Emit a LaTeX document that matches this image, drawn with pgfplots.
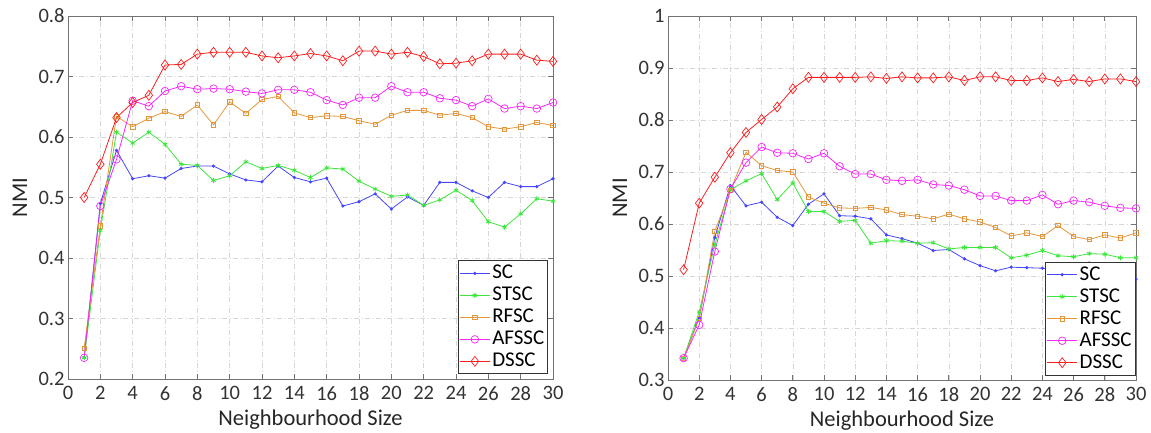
\documentclass[border=0pt]{standalone}
\usepackage{pgfplots}
\pgfplotsset{compat=1.18}
\usepackage{pgfplotstable}
\usepackage{fontspec}
\setmainfont{Carlito}

\definecolor{scblue}{RGB}{70,70,250}
\definecolor{stgreen}{RGB}{60,230,60}
\definecolor{rforange}{RGB}{228,150,60}
\definecolor{afmag}{RGB}{245,40,245}
\definecolor{dsred}{RGB}{250,30,30}

\pgfplotstableread{
x SC STSC RFSC AFSSC DSSC
1 0.235 0.235 0.251 0.235 0.500
2 0.490 0.446 0.453 0.486 0.555
3 0.578 0.608 0.634 0.563 0.632
4 0.531 0.590 0.617 0.660 0.657
5 0.536 0.608 0.631 0.651 0.669
6 0.532 0.588 0.642 0.676 0.719
7 0.548 0.555 0.634 0.684 0.720
8 0.552 0.553 0.653 0.679 0.737
9 0.552 0.528 0.620 0.680 0.740
10 0.539 0.536 0.658 0.679 0.740
11 0.529 0.559 0.639 0.675 0.740
12 0.526 0.548 0.662 0.672 0.734
13 0.552 0.553 0.667 0.678 0.731
14 0.533 0.545 0.640 0.678 0.734
15 0.526 0.533 0.632 0.674 0.738
16 0.532 0.549 0.635 0.661 0.734
17 0.486 0.547 0.634 0.653 0.726
18 0.493 0.527 0.627 0.665 0.742
19 0.506 0.514 0.621 0.665 0.742
20 0.481 0.502 0.636 0.684 0.737
21 0.501 0.504 0.644 0.674 0.740
22 0.487 0.487 0.644 0.674 0.733
23 0.525 0.496 0.636 0.664 0.721
24 0.525 0.512 0.639 0.661 0.722
25 0.511 0.495 0.632 0.651 0.726
26 0.500 0.460 0.617 0.663 0.737
27 0.525 0.451 0.613 0.647 0.737
28 0.518 0.473 0.617 0.651 0.737
29 0.518 0.498 0.624 0.647 0.727
30 0.531 0.494 0.619 0.657 0.725
}\lefttable

\pgfplotstableread{
x SC STSC RFSC AFSSC DSSC
1 0.342 0.342 0.342 0.342 0.512
2 0.420 0.431 0.418 0.406 0.640
3 0.574 0.560 0.586 0.547 0.690
4 0.674 0.666 0.665 0.667 0.737
5 0.635 0.683 0.738 0.718 0.776
6 0.642 0.697 0.712 0.748 0.801
7 0.613 0.647 0.703 0.737 0.825
8 0.597 0.679 0.700 0.736 0.860
9 0.638 0.624 0.652 0.725 0.882
10 0.658 0.624 0.640 0.736 0.882
11 0.616 0.605 0.631 0.711 0.882
12 0.615 0.607 0.630 0.696 0.882
13 0.610 0.563 0.632 0.696 0.883
14 0.579 0.568 0.627 0.685 0.880
15 0.572 0.567 0.618 0.683 0.883
16 0.563 0.563 0.615 0.685 0.881
17 0.549 0.564 0.610 0.676 0.881
18 0.551 0.552 0.619 0.674 0.883
19 0.533 0.555 0.610 0.666 0.876
20 0.520 0.555 0.604 0.654 0.883
21 0.510 0.555 0.593 0.654 0.883
22 0.517 0.535 0.577 0.645 0.876
23 0.516 0.540 0.583 0.645 0.876
24 0.515 0.549 0.576 0.656 0.881
25 0.512 0.539 0.597 0.638 0.874
26 0.518 0.537 0.576 0.645 0.878
27 0.525 0.543 0.570 0.642 0.874
28 0.510 0.542 0.579 0.635 0.879
29 0.502 0.535 0.573 0.631 0.879
30 0.494 0.535 0.583 0.630 0.874
}\righttable

\pgfplotsset{
  panel/.style={
    scale only axis,
    xmin=0, xmax=30,
    xtick={0,2,...,30},
    grid=major,
    grid style={black!16, line width=0.6pt, dash pattern=on 5pt off 2.5pt on 1pt off 2.5pt},
    axis line style={black!55, line width=0.8pt},
    tick style={black!55, line width=0.7pt},
    major tick length=5pt,
    tick align=inside,
    tick pos=both,
    xticklabel pos=bottom,
    yticklabel pos=left,
    /pgf/number format/assume math mode=true,
    ticklabel style={font=\fontsize{20.5}{22}\selectfont, text=black!80},
    xticklabel style={yshift=-4pt},
    yticklabel style={/pgf/number format/fixed, /pgf/number format/precision=1},
    label style={font=\fontsize{22.5}{25}\selectfont, text=black!85},
    xlabel={Neighbourhood Size},
    ylabel={NMI},
    xlabel style={at={(axis description cs:0.5,-0.128)}, anchor=base},
    legend cell align=left,
    legend style={font=\fontsize{21}{23}\selectfont, draw=black!80, line width=0.8pt,
      fill=white, inner sep=1.5pt, row sep=0pt,
      nodes={text height=14.5pt, text depth=3.5pt, inner sep=2pt}},
    legend image code/.code={\draw[mark repeat=2,mark phase=2] plot coordinates {(0pt,0pt) (15pt,0pt) (30pt,0pt)};},
    every axis plot/.append style={line width=0.8pt},
  },
  sc/.style={color=scblue, mark=*, mark size=1.2pt, mark options={solid}},
  st/.style={color=stgreen, mark=asterisk, mark size=2.5pt, mark options={solid, line width=0.8pt}},
  rf/.style={color=rforange, mark=square, mark size=2.2pt, mark options={solid, line width=0.7pt}},
  af/.style={color=afmag, mark=o, mark size=3.8pt, mark options={solid, line width=0.7pt}},
  ds/.style={color=dsred, mark=diamond, mark size=5pt, mark options={solid, line width=0.7pt}},
}

\begin{document}
\begin{tikzpicture}
\begin{axis}[panel, at={(68pt,53pt)}, anchor=south west,
  width=485pt, height=363pt,
  ymin=0.2, ymax=0.8, ytick={0.2,0.3,0.4,0.5,0.6,0.7,0.8},
  ylabel style={at={(axis description cs:-0.099,0.5)}, anchor=center, rotate=0},
  legend style={at={(axis description cs:0.99,0.013)}, anchor=south east}]
\addplot[sc] table[x=x,y=SC] {\lefttable};
\addplot[st] table[x=x,y=STSC] {\lefttable};
\addplot[rf] table[x=x,y=RFSC] {\lefttable};
\addplot[af] table[x=x,y=AFSSC] {\lefttable};
\addplot[ds] table[x=x,y=DSSC] {\lefttable};
\legend{SC,STSC,RFSC,AFSSC,DSSC}
\end{axis}
\begin{axis}[panel, at={(668pt,52pt)}, anchor=south west,
  width=468pt, height=364pt,
  ymin=0.3, ymax=1, ytick={0.3,0.4,0.5,0.6,0.7,0.8,0.9,1},
  ylabel style={at={(axis description cs:-0.1026,0.5)}, anchor=center, rotate=0},
  legend style={at={(axis description cs:0.999,0.012)}, anchor=south east}]
\addplot[sc] table[x=x,y=SC] {\righttable};
\addplot[st] table[x=x,y=STSC] {\righttable};
\addplot[rf] table[x=x,y=RFSC] {\righttable};
\addplot[af] table[x=x,y=AFSSC] {\righttable};
\addplot[ds] table[x=x,y=DSSC] {\righttable};
\legend{SC,STSC,RFSC,AFSSC,DSSC}
\end{axis}
\pgfresetboundingbox
\useasboundingbox (0,0) rectangle (1151pt,432pt);
\end{tikzpicture}
\end{document}
